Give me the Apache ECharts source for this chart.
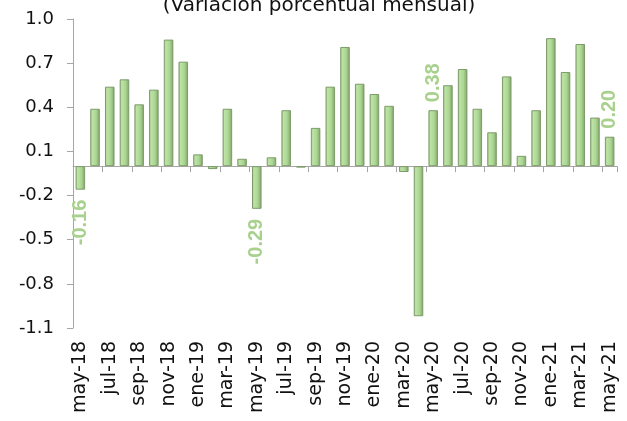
<!DOCTYPE html>
<html>
<head>
<meta charset="utf-8">
<script src="https://cdn.jsdelivr.net/npm/echarts@6/dist/echarts.min.js"></script>
<style>
	html, body { margin: 0; padding: 0; background: #fff; }
	#chart { width: 627px; height: 421px; }
</style>
</head>
<body>
<div id="chart"></div>
<script>
var meses = ['may-18', 'jun-18', 'jul-18', 'ago-18', 'sep-18', 'oct-18', 'nov-18', 'dic-18',
	'ene-19', 'feb-19', 'mar-19', 'abr-19', 'may-19', 'jun-19', 'jul-19', 'ago-19', 'sep-19', 'oct-19', 'nov-19', 'dic-19',
	'ene-20', 'feb-20', 'mar-20', 'abr-20', 'may-20', 'jun-20', 'jul-20', 'ago-20', 'sep-20', 'oct-20', 'nov-20', 'dic-20',
	'ene-21', 'feb-21', 'mar-21', 'abr-21', 'may-21'];
var variacion = [-0.16, 0.39, 0.54, 0.59, 0.42, 0.52, 0.86, 0.71,
	0.08, -0.02, 0.39, 0.05, -0.29, 0.06, 0.38, -0.01, 0.26, 0.54, 0.81, 0.56,
	0.49, 0.41, -0.04, -1.02, 0.38, 0.55, 0.66, 0.39, 0.23, 0.61, 0.07, 0.38,
	0.87, 0.64, 0.83, 0.33, 0.20];
// meses con etiqueta de dato (mayo de cada año)
var destacados = ['may-18', 'may-19', 'may-20', 'may-21'];
var ejeY = { min: -1.1, max: 1.0, paso: 0.3 };

var verde = '#a9d18e';

var barras = [];
for (var i = 0; i < variacion.length; i++) {
	var item = { value: variacion[i] };
	if (destacados.indexOf(meses[i]) >= 0) {
		var neg = variacion[i] < 0;
		item.label = {
			show: true,
			position: neg ? 'bottom' : 'top',
			rotate: 90,
			align: neg ? 'right' : 'left',
			verticalAlign: 'middle',
			distance: neg ? 10 : 8,
			color: verde,
			fontWeight: 'bold',
			fontSize: 20,
			fontFamily: 'Liberation Sans',
			formatter: function(p) {
				return p.value.toFixed(2);
			}
		};
	}
	barras.push(item);
}

var chart = echarts.init(document.getElementById('chart'));
chart.setOption({
	animation: false,
	title: {
		text: '(Variación porcentual mensual)',
		left: 314,
		textAlign: 'center',
		top: -9,
		textStyle: {
			fontFamily: 'DejaVu Sans',
			fontWeight: 'normal',
			fontSize: 20,
			color: '#111'
		}
	},
	grid: { left: 73, right: 10, top: 19, bottom: 93, containLabel: false },
	xAxis: [{
		type: 'category',
		data: meses,
		position: 'bottom',
		axisLine: { onZero: true, lineStyle: { color: '#a6a6a6', width: 1 } },
		axisTick: { show: true, interval: 1, length: 6, lineStyle: { color: '#a6a6a6' } },
		axisLabel: { show: false }
	}, {
		type: 'category',
		data: meses,
		position: 'bottom',
		axisLine: { show: false, onZero: false },
		axisTick: { show: false },
		axisLabel: {
			show: true,
			interval: 1,
			rotate: 90,
			margin: 13,
			fontFamily: 'DejaVu Sans',
			fontSize: 19,
			color: '#111'
		}
	}],
	yAxis: {
		type: 'value',
		min: ejeY.min,
		max: ejeY.max,
		interval: ejeY.paso,
		splitLine: { show: false },
		axisLine: { show: true, lineStyle: { color: '#a6a6a6' } },
		axisTick: { show: true, length: 6, lineStyle: { color: '#a6a6a6' } },
		axisLabel: {
			margin: 19,
			fontFamily: 'DejaVu Sans',
			fontSize: 18,
			color: '#111',
			formatter: function(v) {
				return v.toFixed(1);
			}
		}
	},
	series: [{
		type: 'bar',
		xAxisIndex: 0,
		data: barras,
		barWidth: '65%',
		itemStyle: {
			color: new echarts.graphic.LinearGradient(0, 0, 1, 0, [
				{ offset: 0, color: '#93bd7b' },
				{ offset: 0.2, color: '#bde3a5' },
				{ offset: 0.6, color: '#acd694' },
				{ offset: 0.85, color: '#8fb677' },
				{ offset: 1, color: '#6f8d5e' }
			]),
			borderColor: '#7e9c6b',
			borderWidth: 1
		}
	}]
});
</script>
</body>
</html>
